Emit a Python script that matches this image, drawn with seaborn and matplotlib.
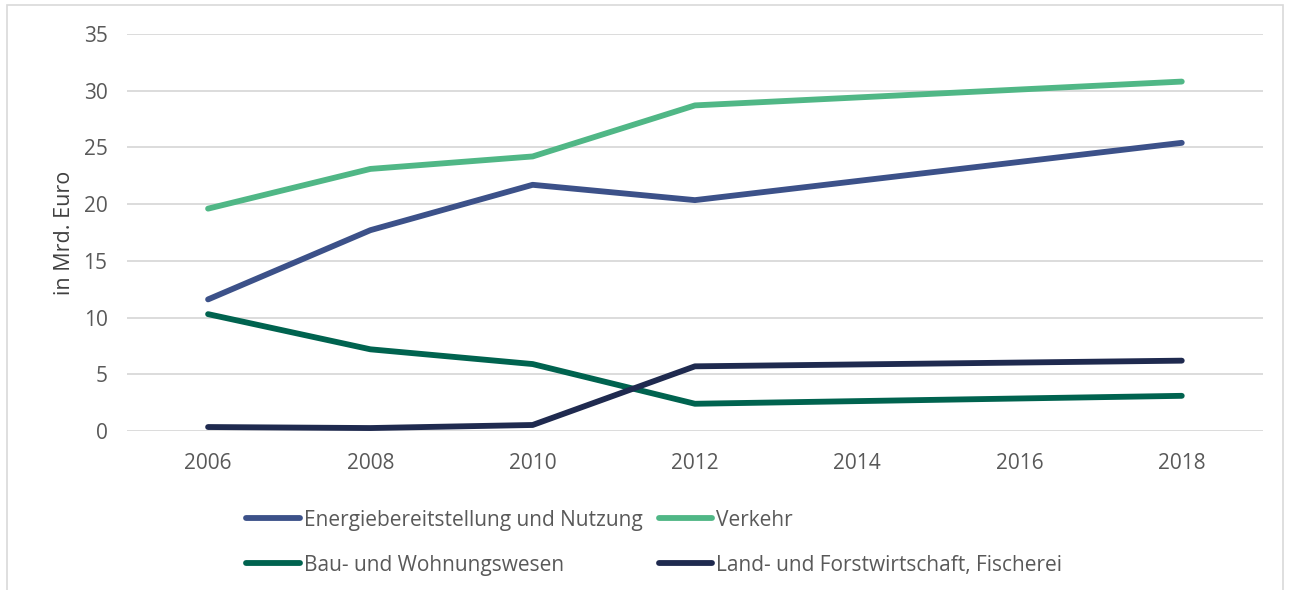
import pandas as pd
import seaborn as sns
import matplotlib.pyplot as plt
from matplotlib.patches import Rectangle

years = [2006, 2008, 2010, 2012, 2018]
energie = [11.6, 17.7, 21.7, 20.35, 25.4]
verkehr = [19.6, 23.1, 24.2, 28.7, 30.8]
bau = [10.3, 7.2, 5.9, 2.4, 3.1]
land = [0.35, 0.26, 0.53, 5.7, 6.2]

names = ["Energiebereitstellung und Nutzung", "Verkehr",
         "Bau- und Wohnungswesen", "Land- und Forstwirtschaft, Fischerei"]
colors = ["#3C5189", "#50B786", "#00634F", "#1F2A4F"]
xticks = [2006, 2008, 2010, 2012, 2014, 2016, 2018]

data = pd.concat([
    pd.DataFrame({"Jahr": years, "Wert": vals, "Bereich": name})
    for name, vals in zip(names, [energie, verkehr, bau, land])
])

sns.set_style("white")
plt.rcParams['font.family'] = ['Open Sans', 'DejaVu Sans']

fig = plt.figure(figsize=(12.9, 5.9), dpi=100)
ax = fig.add_axes([0.0984, 0.2695, 0.8806, 0.673])

sns.lineplot(data=data, x="Jahr", y="Wert", hue="Bereich", hue_order=names,
             palette=colors, linewidth=4.2, ax=ax, legend=False,
             solid_capstyle="round", solid_joinstyle="round")

ax.set_xlim(2005, 2019)
ax.set_ylim(0, 35)
ax.set_xticks(xticks)
ax.set_yticks(range(0, 36, 5))
ax.yaxis.grid(True, color="#D9D9D9", linewidth=1.3)
ax.set_axisbelow(True)
sns.despine(ax=ax, left=True, bottom=True, top=True, right=True)
ax.tick_params(axis="both", length=0, labelsize=15, labelcolor="#595959")
ax.tick_params(axis="x", pad=16)
ax.tick_params(axis="y", pad=14)
ax.set_xlabel("")
ax.set_ylabel("in Mrd. Euro", fontsize=15.5, color="#404040", labelpad=6)

# legend, row-wise order
handles = [plt.Line2D([], [], color=c, linewidth=4.2, solid_capstyle="round")
           for c in colors]
order = [0, 2, 1, 3]
fig.legend([handles[i] for i in order], [names[i] for i in order],
           ncol=2, loc="upper left", bbox_to_anchor=(0.183, 0.154),
           frameon=False, fontsize=15, labelcolor="#595959",
           handlelength=2.55, handletextpad=0.2, columnspacing=0.8,
           labelspacing=1.15, borderpad=0)

fig.patches.append(Rectangle((7 / 1290, -0.05), 1276 / 1290, 1.0 - 5 / 590 + 0.05,
                             transform=fig.transFigure, fill=False,
                             edgecolor="#D9D9D9", linewidth=1.2))

fig.savefig("out.png", dpi=100)
